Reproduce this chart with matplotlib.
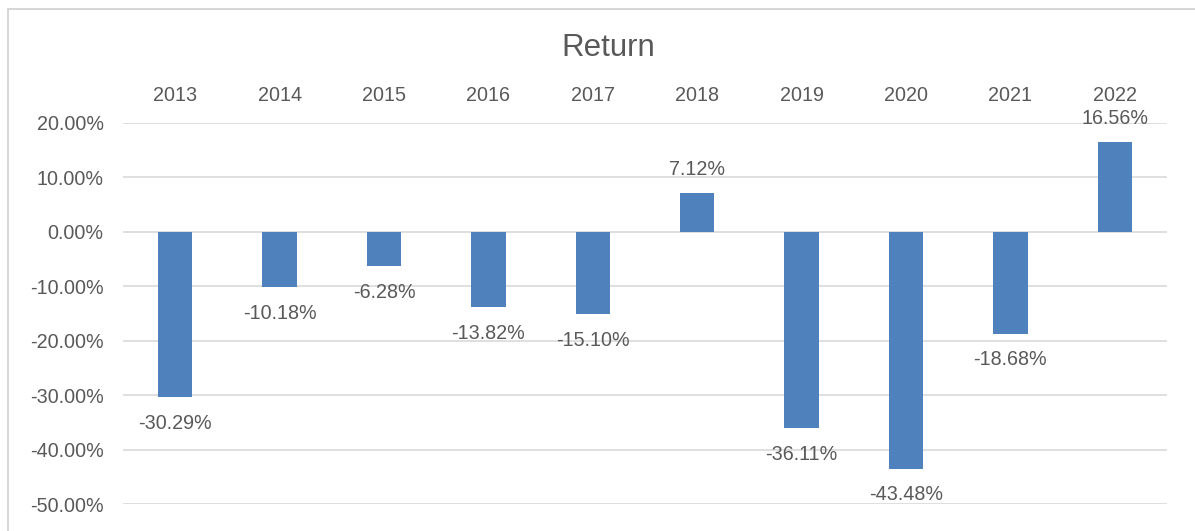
import matplotlib.pyplot as plt
from matplotlib.patches import Rectangle
from matplotlib.ticker import FuncFormatter

years = ['2013', '2014', '2015', '2016', '2017', '2018', '2019', '2020', '2021', '2022']
returns = [-30.29, -10.18, -6.28, -13.82, -15.10, 7.12, -36.11, -43.48, -18.68, 16.56]

plt.rcParams['font.family'] = ['Liberation Sans', 'DejaVu Sans']
text_color = '#595959'
grid_color = '#D9D9D9'
bar_color = '#4F81BD'

fig = plt.figure(figsize=(11.95, 5.31), dpi=100)
ax = fig.add_axes([123 / 1195, 1 - 504 / 531, (1167 - 123) / 1195, (504 - 123) / 531])

# chart border (Excel style)
fig.patches.append(Rectangle((8 / 1195, -0.05), 1.2, 1 - 9 / 531 + 0.05, transform=fig.transFigure,
                             fill=False, edgecolor='#CFCFCF', linewidth=1.2))

x = range(len(years))
ax.bar(x, returns, width=0.33, color=bar_color, zorder=3)

ax.set_ylim(-50, 20)
ax.set_xlim(-0.5, len(years) - 0.5)
ax.set_yticks(range(-50, 21, 10))
ax.yaxis.set_major_formatter(FuncFormatter(lambda v, p: f'{v:.2f}%'))
ax.grid(axis='y', color=grid_color, linewidth=1.2, zorder=0)
for s in ax.spines.values():
    s.set_visible(False)

ax.xaxis.tick_top()
ax.set_xticks(list(x))
ax.set_xticklabels(years)
ax.tick_params(axis='both', length=0, labelsize=14.2, colors=text_color)
ax.tick_params(axis='x', pad=13)
ax.tick_params(axis='y', pad=14)

for i, v in zip(x, returns):
    off = 17 if v > 0 else -19
    ax.annotate(f'{v:.2f}%', (i, v), xytext=(0, off), textcoords='offset points',
                ha='center', va='center', fontsize=14.2, color=text_color, zorder=4)

fig.text(608 / 1195, 1 - 48 / 531, 'Return', ha='center', va='center', fontsize=22.5, color=text_color)

plt.savefig('out.png', dpi=100)
